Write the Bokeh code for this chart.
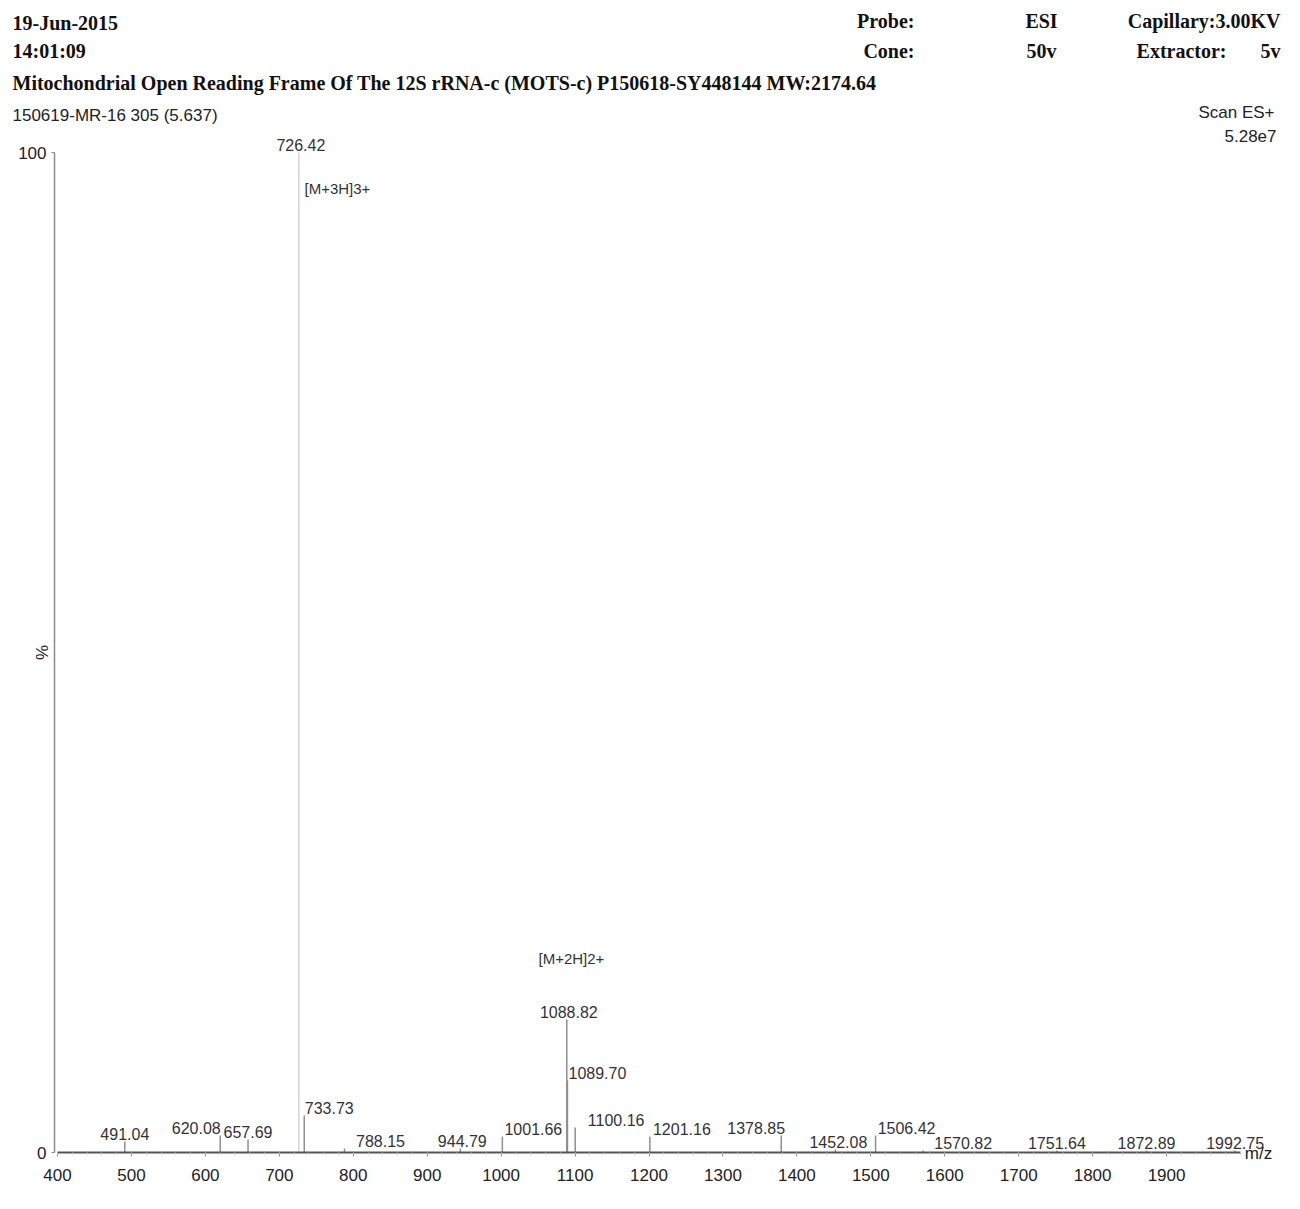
import numpy as np
from bokeh.plotting import figure
from bokeh.models import Range1d, FixedTicker, Label, ColumnDataSource
from bokeh.core.properties import value
from bokeh.embed import file_html
from bokeh.resources import INLINE

# ---------------- data ----------------
mz = [491.04, 620.08, 657.69, 726.42, 733.73, 788.15, 944.79, 1001.66, 1088.82,
      1089.70, 1100.16, 1201.16, 1378.85, 1452.08, 1506.42, 1570.82, 1751.64,
      1872.89, 1992.75]
intensity = [1.1, 1.7, 1.3, 100.0, 3.7, 0.4, 0.4, 1.6, 13.3,
             7.2, 2.5, 1.6, 1.7, 0.3, 1.7, 0.2, 0.2,
             0.2, 0.2]
peak_labels = ["%.2f" % m for m in mz]
x_ticks = list(range(400, 2000, 100))
y_ticks = [0, 100]
ion_labels = ["[M+3H]3+", "[M+2H]2+"]

# label horizontal offsets (px) to avoid overlaps -- styling only
label_dx = [0, -24, 0, 2, 25, 36, 2, 31, 2, 30, 41, 32, -25, 3, 31, 40, 0, 0, 0]

# ---------------- geometry (page pixels) ----------------
W, H = 1300, 1209
PX_400, PX_2000 = 57, 1240      # where m/z 400 and 2000 fall
PY_0, PY_100 = 1152, 152        # where 0 % and 100 % fall
sx = (PX_2000 - PX_400) / 1600.0
sy = (PY_0 - PY_100) / 100.0
x_start = 400 - PX_400 / sx
x_end = 400 + (W - PX_400) / sx
y_start = -(H - PY_0) / sy
y_end = PY_0 / sy

p = figure(width=W, height=H,
           x_range=Range1d(x_start, x_end), y_range=Range1d(y_start, y_end),
           output_backend="svg", toolbar_location=None,
           min_border_left=0, min_border_right=0,
           min_border_top=0, min_border_bottom=0)
p.outline_line_color = None
p.grid.visible = False
p.background_fill_color = "white"
p.border_fill_color = "white"


def px2x(px):
    return 400 + (px - PX_400) / sx


def py2y(py):
    return (PY_0 - py) / sy


colors = ["#d4d4d4" if v >= 50 else "#8f8f8f" for v in intensity]
src = ColumnDataSource(dict(mz=mz, intensity=intensity, label=peak_labels,
                            dx=label_dx, color=colors))

p.segment(x0="mz", y0=0, x1="mz", y1="intensity", source=src,
          line_color="color", line_width=1.5)
p.text(x="mz", y="intensity", text="label", x_offset="dx", y_offset=-2,
       source=src, text_align="center", text_baseline="bottom",
       text_font=value("Liberation Sans"), text_font_size="16px",
       text_color="#333333")

# axes drawn at fixed data locations inside the frame
p.xaxis.fixed_location = 0
p.xaxis.bounds = (400, 2000)
p.xaxis.ticker = FixedTicker(ticks=x_ticks, minor_ticks=list(range(400, 2001, 20)))
p.xaxis.axis_line_color = "#555555"
p.xaxis.axis_line_width = 2
p.xaxis.major_tick_out = 4
p.xaxis.major_tick_in = 0
p.xaxis.minor_tick_out = 2
p.xaxis.minor_tick_in = 0
p.xaxis.major_tick_line_color = "#888888"
p.xaxis.minor_tick_line_color = "#bbbbbb"
p.xaxis.major_label_standoff = 12
p.xaxis.major_label_text_font = "Liberation Sans"
p.xaxis.major_label_text_font_size = "17px"
p.xaxis.major_label_text_color = "#222222"

p.yaxis.fixed_location = px2x(54)
p.yaxis.bounds = (0, 100)
p.yaxis.ticker = FixedTicker(ticks=y_ticks)
p.yaxis.axis_line_color = "#8a8a8a"
p.yaxis.axis_line_width = 1.5
p.yaxis.major_tick_out = 3
p.yaxis.major_tick_in = 0
p.yaxis.minor_tick_line_color = None
p.yaxis.major_tick_line_color = "#888888"
p.yaxis.major_label_standoff = 5
p.yaxis.major_label_text_font = "Liberation Sans"
p.yaxis.major_label_text_font_size = "17px"
p.yaxis.major_label_text_color = "#222222"


def lab(text, px, py, size="20px", font="Liberation Serif", bold=True,
        align="left", color="#111111", angle=0.0):
    p.add_layout(Label(x=px2x(px), y=py2y(py), text=text,
                       text_font=font, text_font_size=size,
                       text_font_style="bold" if bold else "normal",
                       text_align=align, text_baseline="middle",
                       text_color=color, angle=angle))


# header
lab("19-Jun-2015", 12, 22)
lab("14:01:09", 12, 50)
lab("Mitochondrial Open Reading Frame Of The 12S rRNA-c (MOTS-c)  P150618-SY448144  MW:2174.64", 12, 82)
lab("Probe:", 914, 20, align="right")
lab("Cone:", 914, 50, align="right")
lab("ESI", 1041, 20, align="center")
lab("50v", 1041, 50, align="center")
lab("Capillary:3.00KV", 1280, 20, align="right")
lab("Extractor:", 1226, 50, align="right")
lab("5v", 1280, 50, align="right")

lab("150619-MR-16 305 (5.637)", 12, 115, size="17px", font="Liberation Sans",
    bold=False, color="#222222")
lab("Scan ES+", 1274, 112, size="17px", font="Liberation Sans", bold=False,
    align="right", color="#222222")
lab("5.28e7", 1276, 135, size="17px", font="Liberation Sans", bold=False,
    align="right", color="#222222")

# ion annotations
lab(ion_labels[0], 304, 188, size="15px", font="Liberation Sans", bold=False,
    color="#333333")
lab(ion_labels[1], 538, 958, size="15px", font="Liberation Sans", bold=False,
    color="#333333")

# axis titles
lab("%", 42, 652, size="17px", font="Liberation Sans", bold=False,
    align="center", color="#222222", angle=np.pi / 2)
lab("m/z", 1258, 1153, size="17px", font="Liberation Sans", bold=False,
    align="center", color="#222222")

open("out.html", "w").write(file_html(p, INLINE))
